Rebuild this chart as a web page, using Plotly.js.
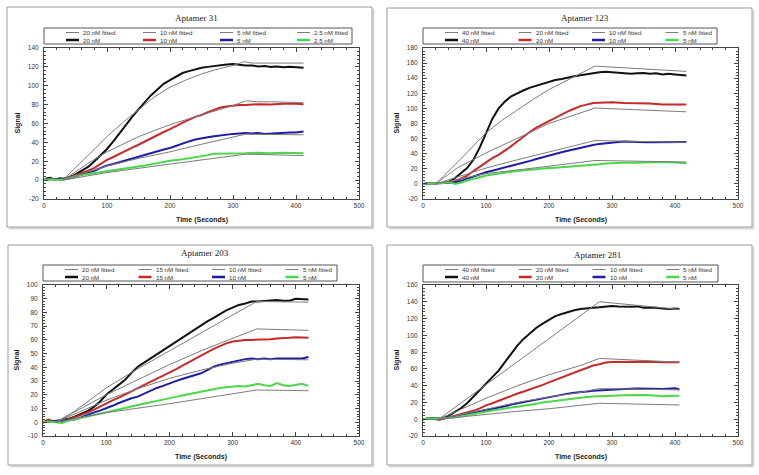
<!DOCTYPE html>
<html>
<head>
<meta charset="utf-8">
<script src="https://cdn.plot.ly/plotly-3.0.1.min.js"></script>
<style>html,body{margin:0;padding:0;background:#fff;}#chart{width:759px;height:475px;}</style>
</head>
<body>
<div id="chart"></div>
<script>
// ---------------- DATA ----------------
const xTickVals = [0, 100, 200, 300, 400, 500];
const xTickText = ["0", "100", "200", "300", "400", "500"];

// Aptamer 31
const title31 = "Aptamer 31";
const conc31 = ["20 nM", "10 nM", "5 nM", "2.5 nM"];
const y31TickVals = [-20, 0, 20, 40, 60, 80, 100, 120, 140];
const y31TickText = ["-20", "0", "20", "40", "60", "80", "100", "120", "140"];
const a31_t20 = [0,5,10,15,20,25,30,40,50,60,70,80,90,100,110,120,130,140,150,160,170,180,190,200,210,220,230,240,250,260,270,280,290,300,310,320,330,340,350,360,370,380,390,400,412];
const a31_v20 = [0,2,2.5,1,1,2,1.5,3,6,10,14,20,26,33,41,50,59,67,75,83,90,96,102,106,110,113.5,115.5,117.5,119,120,121,122,122.5,123,122,121.5,121.5,120.5,121,120,120.5,119.5,120,119.5,119];
const a31_t10 = [0,10,20,30,40,50,60,70,80,90,100,110,120,130,140,150,160,170,180,190,200,210,220,230,240,250,260,270,280,290,300,310,320,340,360,380,400,412];
const a31_v10 = [0,1.5,1,1,2.5,5,7,10,13,17,21.5,24.5,28,31,34.5,37.5,41,44.5,48,51,54,57.5,61,64,67,69,72,74.5,77,78,79,79.5,79.5,80.5,80,81,81,80.5];
const a31_t5 = [0,10,20,30,40,50,60,70,80,90,100,110,120,130,140,150,160,170,180,190,200,210,220,230,240,250,260,270,280,290,300,310,320,330,340,350,360,370,380,390,400,412];
const a31_v5 = [0,1,1,1,2,4,6,8,10,13,15.5,17,19,21,23,25,27,29,31,32.5,34,36.5,39,41,43,44.5,45.5,46.5,47.5,48.5,49,49.5,50,49.5,50,49,49.5,50,50,50.5,50.5,51.5];
const a31_t2 = [0,10,20,30,40,50,60,70,80,90,100,120,140,150,160,180,200,220,240,250,260,270,280,300,320,340,360,380,400,412];
const a31_v2 = [0,1,0.5,0.5,2,4.5,5.5,6.5,7.5,8.5,9,11.5,13.5,14.5,15.5,18,20.5,22,24,25,26.5,28,28,28.6,28.5,29,28.5,29,29,28.5];
const a31_ft20 = [30,40,50,60,80,100,125,150,175,200,225,250,275,300,318,330,412];
const a31_fv20 = [0,6.5,13,20,33,46,61,75,88,98.5,106,112.5,117.5,121.5,125.5,124,124];
const a31_ft10 = [30,50,62,80,100,125,150,175,200,225,250,275,300,320,340,360,412];
const a31_fv10 = [0,9,14.5,22,30,38,46,52.5,58.7,64,69,74,79,84,83,83,82];
const a31_ft5 = [30,100,150,200,250,300,320,412];
const a31_fv5 = [0,15,23,30,38,46,48.7,48];
const a31_ft2 = [30,100,200,300,320,412];
const a31_fv2 = [0,8,17,26,27.5,26];

// Aptamer 123
const title123 = "Aptamer 123";
const conc123 = ["40 nM", "20 nM", "10 nM", "5 nM"];
const y123TickVals = [-20, 0, 20, 40, 60, 80, 100, 120, 140, 160, 180];
const y123TickText = ["-20", "0", "20", "40", "60", "80", "100", "120", "140", "160", "180"];
const a123_t40 = [0,10,20,25,30,40,50,60,70,80,90,100,110,120,130,140,150,160,170,180,190,200,210,220,230,240,250,260,270,280,290,300,310,320,330,340,350,360,370,380,390,400,410,418];
const a123_v40 = [0,1,1,1,1.5,2.5,7,14,21,32,48,67,86,100,109,116,120.5,124,127.5,130,133,136,137.5,139,141,142.5,144,145.5,147,148,148.5,148,147,147.5,146,146.5,147,146,146.5,145,146,145,144.5,143.5];
const a123_t20 = [0,10,20,30,40,50,60,70,80,90,100,110,120,130,140,150,160,170,180,190,200,210,220,230,240,250,260,270,280,290,300,320,340,360,380,400,418];
const a123_v20 = [0,1,1,1,1.5,3,7,11,17,23,29,34,38.5,44,50,56.5,63,69,74.5,79,83,87.5,92,96,99.5,103,105,107,107.5,108,108,107,107,106.5,105,105.5,105];
const a123_t10 = [0,10,20,30,40,50,60,70,80,90,100,110,120,130,140,150,160,170,180,190,200,210,220,230,240,250,260,270,280,290,300,310,320,330,340,360,380,400,418];
const a123_v10 = [0,1,1,1,1,2,4,7,9,12,15.5,17.5,19.5,21.5,23.5,25.5,28,30.5,33,35.5,38,40,42,44,46,48.5,50,51.5,53,54,55,55.5,56,55.5,55.5,55,55.5,55,55.5];
const a123_t5 = [0,10,20,27,35,43,51,60,70,80,90,100,110,120,130,140,150,160,170,180,190,200,210,220,230,240,250,260,270,280,290,300,310,320,340,360,380,400,418];
const a123_v5 = [0,1,1,0.5,1.5,2,0,1.5,4.5,7,9,11,12.5,14,15,16,17,18,19,19.5,20,21,21.5,22,22.5,23,23.5,24.5,25,26,27,27.5,28,28,28,28.5,29,28.5,27.5];
const a123_ft40 = [20,35,54,75,100,125,150,175,200,225,250,273,418];
const a123_fv40 = [0,12,28,46,67.5,84,98.5,112,125,136,147,156,149];
const a123_ft20 = [20,54,100,150,200,273,418];
const a123_fv20 = [0,21,41,61,80,100.5,95.5];
const a123_ft10 = [20,100,150,200,273,418];
const a123_fv10 = [0,21,32,42,57.4,55];
const a123_ft5 = [20,100,200,273,418];
const a123_fv5 = [0,13.7,23.4,31,29];

// Aptamer 203
const title203 = "Aptamer 203";
const conc203 = ["20 nM", "15 nM", "10 nM", "5 nM"];
const y203TickVals = [-10, 0, 10, 20, 30, 40, 50, 60, 70, 80, 90, 100];
const y203TickText = ["-10", "0", "10", "20", "30", "40", "50", "60", "70", "80", "90", "100"];
const a203_t20 = [0,5,10,20,30,40,50,60,70,80,90,100,110,120,130,140,150,160,170,180,190,200,210,220,230,240,250,260,270,280,290,300,310,320,330,340,350,360,370,380,390,400,410,420];
const a203_v20 = [0,0.5,1,1,1.5,2.5,4,6,8,11,15,20,23.5,27,31,36,40.5,43.5,46.5,50,52.5,56,59,62,64.5,67.5,71,73.5,76,79,81.5,83.5,85.5,86.5,88,88,88.5,88.5,89,88.5,88.5,90,89.5,89.5];
const a203_t15 = [0,5,8,12,15,20,30,40,50,60,70,80,90,100,110,120,130,140,150,160,170,180,190,200,210,220,230,240,250,260,270,280,290,300,310,320,330,340,350,360,370,380,390,400,410,420];
const a203_v15 = [0,1,2,1.5,0.5,1,1,2,3.5,5,7,9,11.5,13.8,16,18,20.5,22.5,24.8,27,29.5,31.5,33.5,35.7,38.5,41,43.5,46,49,51.5,53.5,55.5,57.5,58.8,59.5,60,60,60,60.5,60.5,61,61,61.5,62,62,61.5];
const a203_t10 = [0,10,20,30,40,50,60,70,80,90,100,110,120,130,140,150,160,170,180,190,200,210,220,230,240,250,260,270,280,290,300,310,320,330,340,350,360,370,380,390,400,410,420];
const a203_v10 = [0,0.5,1,1,1.5,2,3.5,5.5,7,8.5,10,12,14,16,17.5,18.7,21,23,25,26.5,28.4,30,31.5,33,34.5,35.7,38,40.5,42,43,44,45.5,46,46.5,46,46.5,46,46.5,46.5,46,46,46.5,47.5];
const a203_t5 = [0,10,20,25,30,40,50,60,70,80,90,100,110,120,130,140,150,160,170,180,190,200,210,220,230,240,250,260,270,280,290,300,310,320,330,340,350,360,370,380,390,400,410,420];
const a203_v5 = [0,0.5,0,-0.5,-0.5,1,2,3,4,5,6,7.3,8.5,9.5,10.5,11.5,12.6,13.5,14.5,15.5,16.5,17.5,18.5,19.5,20.5,21.5,22.3,23,24,25,25.5,26,26.5,26,27,28,27,26.5,28.5,27,26.5,27.5,28,26.5];
const a203_ft20 = [20,50,100,150,200,250,300,338,420];
const a203_fv20 = [0,8,25,39,52,65,77.5,88,87.5];
const a203_ft15 = [20,100,150,200,250,300,338,420];
const a203_fv15 = [0,20,31,42,52,61,68,67];
const a203_ft10 = [20,100,150,200,250,300,338,420];
const a203_fv10 = [0,16,24.5,32,38,43,46,45.5];
const a203_ft5 = [20,100,200,300,338,420];
const a203_fv5 = [0,7,13.5,20.5,23.5,23];

// Aptamer 281
const title281 = "Aptamer 281";
const conc281 = ["40 nM", "20 nM", "10 nM", "5 nM"];
const y281TickVals = [-20, 0, 20, 40, 60, 80, 100, 120, 140, 160];
const y281TickText = ["-20", "0", "20", "40", "60", "80", "100", "120", "140", "160"];
const a281_t40 = [0,10,20,25,30,40,50,60,70,80,90,100,110,120,130,140,150,160,170,180,190,200,210,220,230,240,250,260,270,280,290,300,310,320,330,340,350,360,370,380,390,400,407];
const a281_v40 = [0,1,1,1,1,4,8,13,19,27,35,43,51,58,68,78,88,96,103,109,114,119,123,125.5,128,130,131.5,132.5,133,133.5,134,135,134.5,134,134,134.5,133,133,133,132,131.5,132,131.5];
const a281_t20 = [0,10,20,25,30,40,50,60,70,80,90,100,110,120,130,140,150,160,170,180,190,200,210,220,230,240,250,260,270,280,290,300,320,340,360,380,400,407];
const a281_v20 = [0,1,0.5,-1,0,2,4,5.5,7.5,10,13,16.5,19,22,24.5,28,30.6,33,35.5,38,41,44,47,50,53,55.5,58.4,61,64,65.5,67.5,68.3,68.5,69,68.5,68,68.5,68];
const a281_t10 = [0,10,20,30,40,50,60,70,80,90,100,110,120,130,140,150,160,170,180,190,200,210,220,230,240,250,260,270,280,290,300,320,340,360,380,400,407];
const a281_v10 = [0,1,1,1,2,3,4.5,6,7.5,9.5,11,12.5,14,15.5,17.5,19,20,21.5,23,24.5,26,27.5,29,30.5,31.5,32,33,34,34.5,35,35.5,36,36.5,36,36,37,35.5];
const a281_t5 = [0,10,20,30,40,50,60,70,80,90,100,110,120,130,140,150,160,170,180,190,200,210,220,230,240,250,260,270,280,290,300,320,340,350,360,380,400,407];
const a281_v5 = [0,1,1,1,1.5,2,3.5,5,6.5,8,9,10.5,11.5,13,14,15,16,17.5,18.5,20,21,22,23,24,25,26,26.5,27,27.5,28,28,28.5,29,29,28.5,27.5,28,28];
const a281_ft40 = [25,100,150,200,250,280,407];
const a281_fv40 = [0,41,68.5,96,123,140,131];
const a281_ft20 = [25,100,150,200,250,280,407];
const a281_fv20 = [0,25,40,53,64,72.5,68];
const a281_ft10 = [25,100,150,200,250,280,407];
const a281_fv10 = [0,12.5,20,26.5,32,36.5,35];
const a281_ft5 = [25,100,150,200,250,280,407];
const a281_fv5 = [0,6,9.5,12.5,16.5,19,17];

// ---------------- LAYOUT / STYLE ----------------
const W = 759, H = 475;
const seriesColors = ["#111111", "#c62a2a", "#1d1da6", "#4cd64c"];
const fitColor = "#7c7c7c";
const FONT = "Liberation Sans, Arial, sans-serif";

const panels = [
  { title: title31, conc: conc31, yRange: [-20, 140], yTV: y31TickVals, yTT: y31TickText, yMinor: 4,
    data: [[a31_t20, a31_v20], [a31_t10, a31_v10], [a31_t5, a31_v5], [a31_t2, a31_v2]],
    fit: [[a31_ft20, a31_fv20], [a31_ft10, a31_fv10], [a31_ft5, a31_fv5], [a31_ft2, a31_fv2]],
    plot: [44, 48, 359, 199], frame: [7, 7, 372, 227], legend: [44, 28, 352, 44], titleX: 196, titleY: 18 },
  { title: title123, conc: conc123, yRange: [-20, 180], yTV: y123TickVals, yTT: y123TickText, yMinor: 4,
    data: [[a123_t40, a123_v40], [a123_t20, a123_v20], [a123_t10, a123_v10], [a123_t5, a123_v5]],
    fit: [[a123_ft40, a123_fv40], [a123_ft20, a123_fv20], [a123_ft10, a123_fv10], [a123_ft5, a123_fv5]],
    plot: [423, 48, 738, 199], frame: [387, 8, 752, 227], legend: [423, 28, 717, 44], titleX: 585, titleY: 18 },
  { title: title203, conc: conc203, yRange: [-10, 100], yTV: y203TickVals, yTT: y203TickText, yMinor: 2,
    data: [[a203_t20, a203_v20], [a203_t15, a203_v15], [a203_t10, a203_v10], [a203_t5, a203_v5]],
    fit: [[a203_ft20, a203_fv20], [a203_ft15, a203_fv15], [a203_ft10, a203_fv10], [a203_ft5, a203_fv5]],
    plot: [43, 285, 359, 436], frame: [8, 245, 372, 465], legend: [43, 265, 337, 281], titleX: 205, titleY: 253 },
  { title: title281, conc: conc281, yRange: [-20, 160], yTV: y281TickVals, yTT: y281TickText, yMinor: 4,
    data: [[a281_t40, a281_v40], [a281_t20, a281_v20], [a281_t10, a281_v10], [a281_t5, a281_v5]],
    fit: [[a281_ft40, a281_fv40], [a281_ft20, a281_fv20], [a281_ft10, a281_fv10], [a281_ft5, a281_fv5]],
    plot: [423, 285, 738, 436], frame: [387, 245, 752, 465], legend: [423, 265, 718, 282], titleX: 597, titleY: 255 }
];

const px = x => x / W;
const py = y => 1 - y / H;

const traces = [];
const layout = {
  width: W, height: H,
  margin: { l: 0, r: 0, t: 0, b: 0, pad: 0 },
  paper_bgcolor: "#ffffff", plot_bgcolor: "#ffffff",
  showlegend: false, hovermode: false,
  font: { family: FONT, size: 7, color: "#333" },
  shapes: [], annotations: []
};

panels.forEach((p, i) => {
  const n = i === 0 ? "" : String(i + 1);
  const xa = "x" + n, ya = "y" + n;
  // data lines then fitted lines
  p.data.forEach((d, j) => {
    traces.push({ type: "scatter", mode: "lines", x: d[0], y: d[1], xaxis: xa, yaxis: ya,
      name: p.conc[j], line: { color: seriesColors[j], width: 2 } });
  });
  p.fit.forEach((d, j) => {
    traces.push({ type: "scatter", mode: "lines", x: d[0], y: d[1], xaxis: xa, yaxis: ya,
      name: p.conc[j] + " fitted", line: { color: fitColor, width: 1 } });
  });
  const [x0, y0, x1, y1] = p.plot;
  const axCommon = {
    showline: true, linecolor: "#444", linewidth: 1, mirror: "ticks",
    showgrid: false, zeroline: false, ticks: "inside", ticklen: 4, tickcolor: "#444", tickwidth: 1,
    tickfont: { family: FONT, size: 6.5, color: "#333" }, fixedrange: true
  };
  layout["xaxis" + n] = Object.assign({}, axCommon, {
    domain: [px(x0), px(x1)], anchor: ya, range: [0, 500],
    tickmode: "array", tickvals: xTickVals, ticktext: xTickText,
    minor: { ticks: "inside", ticklen: 2, dtick: 20, tick0: 0, tickcolor: "#444" }
  });
  layout["yaxis" + n] = Object.assign({}, axCommon, {
    domain: [py(y1), py(y0)], anchor: xa, range: p.yRange,
    tickmode: "array", tickvals: p.yTV, ticktext: p.yTT, ticklabelstandoff: 3,
    minor: { ticks: "inside", ticklen: 2, dtick: p.yMinor, tick0: 0, tickcolor: "#444" }
  });

  // frame with shadow
  const [f0, g0, f1, g1] = p.frame;
  layout.shapes.push({ type: "line", xref: "paper", yref: "paper", x0: px(f1 + 1.5), x1: px(f1 + 1.5), y0: py(g0 + 2), y1: py(g1 + 1.5), line: { color: "#cfcfcf", width: 1.5 } });
  layout.shapes.push({ type: "line", xref: "paper", yref: "paper", x0: px(f0 + 2), x1: px(f1 + 1.5), y0: py(g1 + 1.5), y1: py(g1 + 1.5), line: { color: "#cfcfcf", width: 1.5 } });
  layout.shapes.push({ type: "rect", xref: "paper", yref: "paper", x0: px(f0), x1: px(f1), y0: py(g1), y1: py(g0), line: { color: "#9a9a9a", width: 1 } });

  // title
  layout.annotations.push({ xref: "paper", yref: "paper", x: px(p.titleX), y: py(p.titleY), text: p.title,
    showarrow: false, xanchor: "center", yanchor: "middle",
    font: { family: "Liberation Serif, Times New Roman, serif", size: 9, color: "#222" } });
  // axis titles
  layout.annotations.push({ xref: "paper", yref: "paper", x: px((x0 + x1) / 2), y: py(y1 + 21), text: "<b>Time (Seconds)</b>",
    showarrow: false, xanchor: "center", yanchor: "middle", font: { family: FONT, size: 7, color: "#222" } });
  layout.annotations.push({ xref: "paper", yref: "paper", x: px(x0 - 27), y: py((y0 + y1) / 2), text: "<b>Signal</b>",
    showarrow: false, textangle: -90, xanchor: "center", yanchor: "middle", font: { family: FONT, size: 7, color: "#222" } });

  // legend box
  const [l0, m0, l1, m1] = p.legend;
  layout.shapes.push({ type: "rect", xref: "paper", yref: "paper", x0: px(l0), x1: px(l1), y0: py(m1), y1: py(m0), line: { color: "#555", width: 1 }, fillcolor: "#fff" });
  const colW = (l1 - l0) / 4;
  for (let j = 0; j < 4; j++) {
    const lx = l0 + j * colW + 22;
    const rows = [[m0 + 4.5, fitColor, 1, p.conc[j] + " fitted"], [m0 + 12, seriesColors[j], 2.5, p.conc[j]]];
    rows.forEach(r => {
      layout.shapes.push({ type: "line", xref: "paper", yref: "paper", x0: px(lx), x1: px(lx + 13), y0: py(r[0]), y1: py(r[0]), line: { color: r[1], width: r[2] } });
      layout.annotations.push({ xref: "paper", yref: "paper", x: px(lx + 15), y: py(r[0]), text: r[3], showarrow: false,
        xanchor: "left", yanchor: "middle", font: { family: FONT, size: 6.2, color: "#333" } });
    });
  }
});

Plotly.newPlot("chart", traces, layout, { displayModeBar: false, staticPlot: true });
</script>
</body>
</html>
